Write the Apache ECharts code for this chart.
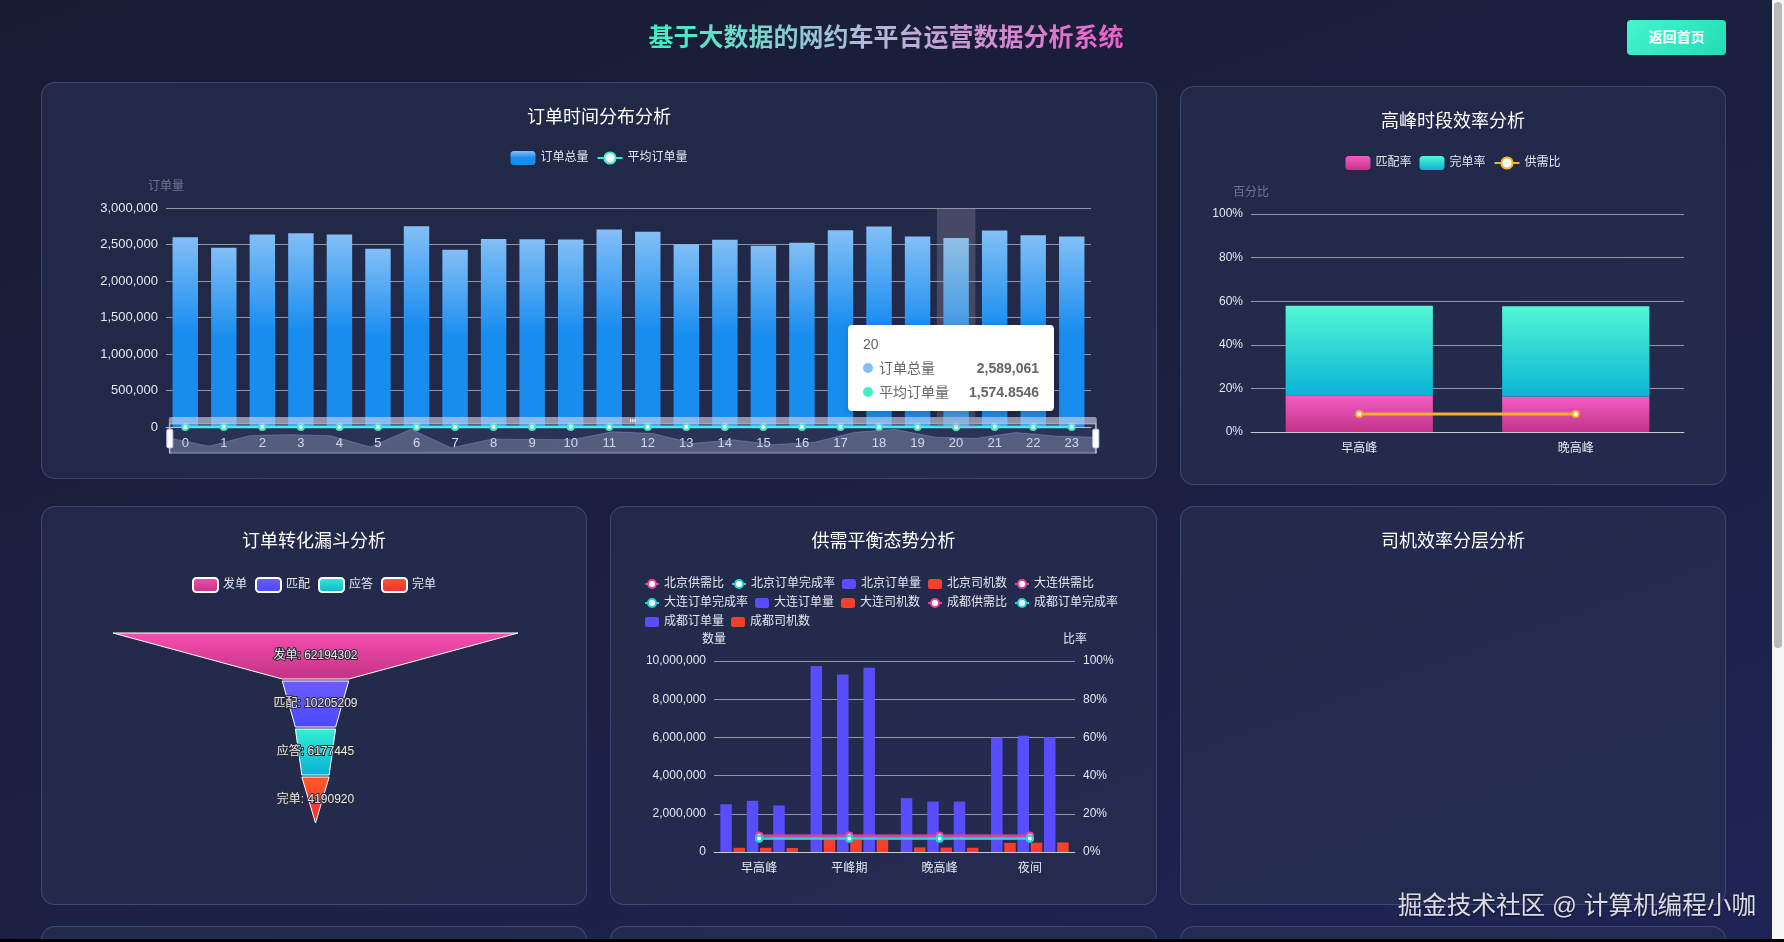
<!DOCTYPE html>
<html>
<head>
<meta charset="utf-8">
<title>网约车平台运营数据分析</title>
<script src="https://cdn.jsdelivr.net/npm/echarts@6/dist/echarts.min.js"></script>
<style>
  html, body {
    margin: 0;
    padding: 0;
    width: 1784px;
    height: 942px;
    overflow: hidden;
    font-family: "Liberation Sans", "Noto Sans CJK SC", sans-serif;
  }
  body {
    position: relative;
    background: linear-gradient(160deg, #181c33 0%, #1b2042 55%, #1f2456 100%);
  }
  .header-title {
    position: absolute;
    left: 0;
    width: 1772px;
    top: 18px;
    text-align: center;
    font-size: 25px;
    font-weight: bold;
    line-height: 38px;
  }
  .header-title span {
    background: linear-gradient(90deg, #3ff0c0 0%, #b9b4dc 50%, #ee5fc6 100%);
    -webkit-background-clip: text;
    background-clip: text;
    color: transparent;
  }
  .back-btn {
    position: absolute;
    left: 1627px;
    top: 20px;
    width: 99px;
    height: 35px;
    line-height: 35px;
    text-align: center;
    color: #fff;
    font-size: 14px;
    font-weight: bold;
    border-radius: 4px;
    background: linear-gradient(135deg, #45f5cf, #22dcb4);
  }
  .panel {
    position: absolute;
    box-sizing: border-box;
    border: 1px solid rgba(110, 130, 190, 0.35);
    border-radius: 14px;
    background: rgba(40, 48, 80, 0.62);
    overflow: hidden;
  }
  .panel .chart {
    width: 100%;
    height: 100%;
  }
  .watermark {
    position: absolute;
    right: 28px;
    top: 885px;
    font-size: 24.6px;
    color: rgba(240, 240, 245, 0.9);
    text-shadow: 0 1px 2px rgba(0, 0, 0, 0.6);
    white-space: nowrap;
  }
  .scroll-track {
    position: absolute;
    left: 1772px;
    top: 0;
    width: 12px;
    height: 942px;
    background: #f6f6f6;
  }
  .scroll-thumb {
    position: absolute;
    left: 2px;
    top: 2px;
    width: 8px;
    height: 646px;
    border-radius: 4px;
    background: #b9b9b9;
  }
  .bottom-edge {
    position: absolute;
    left: 0;
    top: 939px;
    width: 1784px;
    height: 3px;
    background: #000;
  }
</style>
</head>
<body>
<div class="header-title"><span>基于大数据的网约车平台运营数据分析系统</span></div>
<div class="back-btn">返回首页</div>

<div class="panel" style="left:41px;top:82px;width:1116px;height:397px;"><div id="chartHour" class="chart"></div></div>
<div class="panel" style="left:1180px;top:86px;width:546px;height:399px;"><div id="chartPeak" class="chart"></div></div>
<div class="panel" style="left:41px;top:506px;width:546px;height:399px;"><div id="chartFunnel" class="chart"></div></div>
<div class="panel" style="left:610px;top:506px;width:547px;height:399px;"><div id="chartSupply" class="chart"></div></div>
<div class="panel" style="left:1180px;top:506px;width:546px;height:399px;"><div id="chartDriver" class="chart"></div></div>
<div class="panel" style="left:41px;top:926px;width:546px;height:300px;"></div>
<div class="panel" style="left:610px;top:926px;width:547px;height:300px;"></div>
<div class="panel" style="left:1180px;top:926px;width:546px;height:300px;"></div>

<div class="watermark">掘金技术社区 @ 计算机编程小咖</div>
<div class="scroll-track"><div class="scroll-thumb"></div></div>
<div class="bottom-edge"></div>

<script>
// ---- 数据 ----
var hours = ['0', '1', '2', '3', '4', '5', '6', '7', '8', '9', '10', '11',
  '12', '13', '14', '15', '16', '17', '18', '19', '20', '21', '22', '23']
var orderTotal = [2598000, 2455000, 2636000, 2655000, 2636000, 2441000, 2750000, 2427000,
  2577000, 2573000, 2568000, 2705000, 2673000, 2505000, 2564000, 2482000,
  2523000, 2695000, 2745000, 2609000, 2589061, 2691000, 2627000, 2609000]
var orderAvg = [1580.3, 1493.2, 1603.4, 1614.9, 1603.1, 1484.8, 1672.7, 1476.2,
  1567.5, 1565.1, 1562.0, 1645.3, 1625.9, 1523.7, 1559.6, 1509.7,
  1534.6, 1639.2, 1669.7, 1587.0, 1574.8546, 1636.8, 1597.9, 1587.0]

var peakNames = ['早高峰', '晚高峰']
var matchRate = [16.9, 16.3]
var completeRate = [41.0, 41.4]
var supplyRatio = [8.3, 8.3]

var funnelStages = ['发单', '匹配', '应答', '完单']
var funnelValues = [62194302, 10205209, 6177445, 4190920]

var periods = ['早高峰', '平峰期', '晚高峰', '夜间']
var cities = ['北京', '大连', '成都']
var cityOrders = [
  [2500000, 9740000, 2820000, 5980000],
  [2680000, 9290000, 2640000, 6080000],
  [2440000, 9650000, 2640000, 6010000]
]
var cityDrivers = [
  [220000, 640000, 240000, 480000],
  [220000, 630000, 230000, 490000],
  [210000, 640000, 220000, 500000]
]
var cityRatio = [
  [8.5, 8.5, 8.5, 8.5],
  [8.5, 8.5, 8.5, 8.5],
  [8.5, 8.5, 8.5, 8.5]
]
var cityComplete = [
  [7.1, 7.1, 7.1, 7.1],
  [7.1, 7.1, 7.1, 7.1],
  [7.1, 7.1, 7.1, 7.1]
]

// ---- 公共样式 ----
var FONT = '"Liberation Sans", "Noto Sans CJK SC", sans-serif'
var LABEL_COLOR = '#e4e8f2'
var GRID_LINE = 'rgba(255,255,255,0.5)'
var NAME_COLOR = '#6f7690'

function titleOf (text) {
  return {
    text: text,
    left: 'center',
    top: 21,
    textStyle: { color: '#fff', fontSize: 18, fontWeight: 'normal', fontFamily: FONT }
  }
}

function vGrad (top, bottom) {
  return new echarts.graphic.LinearGradient(0, 0, 0, 1, [
    { offset: 0, color: top },
    { offset: 1, color: bottom }
  ])
}

function fmtNum (v) {
  return String(v).replace(/\B(?=(\d{3})+(?!\d))/g, ',')
}

// 订单时间分布
function initHourChart () {
  var chart = echarts.init(document.getElementById('chartHour'))
  chart.setOption({
    animation: false,
    textStyle: { fontFamily: FONT },
    title: titleOf('订单时间分布分析'),
    legend: {
      top: 63,
      left: 'center',
      itemWidth: 25,
      itemHeight: 14,
      textStyle: { color: LABEL_COLOR, fontSize: 12 },
      data: ['订单总量', '平均订单量']
    },
    tooltip: {
      trigger: 'axis',
      axisPointer: { type: 'shadow', shadowStyle: { color: 'rgba(150,150,170,0.3)' } },
      alwaysShowContent: true,
      transitionDuration: 0,
      position: [806, 242],
      backgroundColor: '#fff',
      borderWidth: 0,
      padding: [12, 15],
      textStyle: { color: '#666', fontSize: 14 }
    },
    grid: { left: 124, right: 65, top: 125, bottom: 51 },
    xAxis: {
      type: 'category',
      data: hours,
      axisLine: { lineStyle: { color: GRID_LINE } },
      axisTick: { lineStyle: { color: GRID_LINE } },
      axisLabel: { color: LABEL_COLOR, fontSize: 13, margin: 10 }
    },
    yAxis: {
      type: 'value',
      name: '订单量',
      nameTextStyle: { color: NAME_COLOR, fontSize: 12 },
      min: 0,
      max: 3000000,
      interval: 500000,
      axisLine: { show: false },
      axisTick: { show: false },
      axisLabel: { color: LABEL_COLOR, fontSize: 13, formatter: fmtNum },
      splitLine: { lineStyle: { color: GRID_LINE } }
    },
    dataZoom: [{
      type: 'slider',
      xAxisIndex: 0,
      start: 0,
      end: 100,
      left: 124,
      right: 62,
      bottom: 31,
      height: 30,
      showDetail: false,
      moveHandleSize: 7,
      backgroundColor: 'rgba(0,0,0,0)',
      fillerColor: 'rgba(120,140,200,0.1)',
      borderColor: 'rgba(190,200,230,0.6)',
      dataBackground: {
        lineStyle: { color: 'rgba(160,175,220,0.7)' },
        areaStyle: { color: 'rgba(100,120,190,0.45)' }
      },
      handleStyle: { color: '#fff', borderColor: '#c8cce0' },
      moveHandleStyle: { color: 'rgba(210,215,232,0.62)', opacity: 1 },
      textStyle: { color: LABEL_COLOR }
    }],
    series: [
      {
        name: '订单总量',
        type: 'bar',
        barWidth: '66%',
        itemStyle: {
          color: new echarts.graphic.LinearGradient(0, 0, 0, 1, [
            { offset: 0, color: '#83bff6' },
            { offset: 0.5, color: '#188df0' },
            { offset: 1, color: '#188df0' }
          ])
        },
        data: orderTotal
      },
      {
        name: '平均订单量',
        type: 'line',
        symbol: 'emptyCircle',
        symbolSize: 6,
        itemStyle: { color: '#45ecc8' },
        lineStyle: { color: '#3ee0d8', width: 3 },
        data: orderAvg
      }
    ]
  })
  chart.dispatchAction({ type: 'showTip', seriesIndex: 0, dataIndex: 20 })
}

// 高峰时段效率
function initPeakChart () {
  var chart = echarts.init(document.getElementById('chartPeak'))
  chart.setOption({
    animation: false,
    textStyle: { fontFamily: FONT },
    title: titleOf('高峰时段效率分析'),
    legend: {
      top: 64,
      left: 'center',
      itemWidth: 25,
      itemHeight: 14,
      textStyle: { color: LABEL_COLOR, fontSize: 12 },
      data: ['匹配率', '完单率', '供需比']
    },
    grid: { left: 70, right: 41, top: 127, bottom: 52 },
    xAxis: {
      type: 'category',
      data: peakNames,
      axisLine: { lineStyle: { color: GRID_LINE } },
      axisTick: { lineStyle: { color: GRID_LINE } },
      axisLabel: { color: LABEL_COLOR, fontSize: 12, margin: 11 }
    },
    yAxis: {
      type: 'value',
      name: '百分比',
      nameTextStyle: { color: NAME_COLOR, fontSize: 12 },
      min: 0,
      max: 100,
      interval: 20,
      axisLine: { show: false },
      axisTick: { show: false },
      axisLabel: { color: LABEL_COLOR, fontSize: 12, formatter: '{value}%' },
      splitLine: { lineStyle: { color: GRID_LINE } }
    },
    series: [
      {
        name: '匹配率',
        type: 'bar',
        stack: 'rate',
        barWidth: '68%',
        itemStyle: { color: vGrad('#f45cc4', '#c2348a') },
        data: matchRate
      },
      {
        name: '完单率',
        type: 'bar',
        stack: 'rate',
        barWidth: '68%',
        itemStyle: { color: vGrad('#52f7d4', '#0ab4d6') },
        data: completeRate
      },
      {
        name: '供需比',
        type: 'line',
        symbol: 'emptyCircle',
        symbolSize: 6,
        itemStyle: { color: '#f7b42c' },
        lineStyle: { color: '#f5b02a', width: 3 },
        data: supplyRatio
      }
    ]
  })
}

// 订单转化漏斗
function initFunnelChart () {
  var chart = echarts.init(document.getElementById('chartFunnel'))
  var colors = [
    vGrad('#f64fb0', '#c23283'),
    vGrad('#6c5cff', '#4a48ff'),
    vGrad('#32f0d6', '#0cb0d2'),
    vGrad('#ff5a26', '#ee2e36')
  ]
  chart.setOption({
    animation: false,
    textStyle: { fontFamily: FONT },
    title: titleOf('订单转化漏斗分析'),
    legend: {
      top: 65,
      left: 'center',
      itemWidth: 25,
      itemHeight: 14,
      itemStyle: { borderColor: '#fff', borderWidth: 2 },
      textStyle: { color: LABEL_COLOR, fontSize: 12 },
      data: funnelStages
    },
    series: [{
      type: 'funnel',
      left: 71,
      top: 126,
      width: 405,
      height: 190,
      min: 0,
      max: funnelValues[0],
      minSize: '0%',
      maxSize: '100%',
      sort: 'descending',
      gap: 2,
      label: {
        show: true,
        position: 'inside',
        formatter: '{b}: {c}',
        color: '#e8e8ee',
        fontSize: 12,
        textBorderColor: '#2a2a35',
        textBorderWidth: 2
      },
      itemStyle: { borderColor: '#fff', borderWidth: 1 },
      data: funnelStages.map(function (name, i) {
        return { name: name, value: funnelValues[i], itemStyle: { color: colors[i] } }
      })
    }]
  })
}

// 供需平衡态势
function initSupplyChart () {
  var chart = echarts.init(document.getElementById('chartSupply'))
  var series = []
  cities.forEach(function (city, i) {
    series.push({
      name: city + '供需比',
      type: 'line',
      yAxisIndex: 1,
      symbol: 'emptyCircle',
      symbolSize: 6,
      itemStyle: { color: '#e8449e' },
      lineStyle: { color: '#d9439a', width: 2 },
      data: cityRatio[i]
    })
    series.push({
      name: city + '订单完成率',
      type: 'line',
      yAxisIndex: 1,
      symbol: 'emptyCircle',
      symbolSize: 6,
      itemStyle: { color: '#22d4d6' },
      lineStyle: { color: '#22d4d6', width: 2 },
      data: cityComplete[i]
    })
    series.push({
      name: city + '订单量',
      type: 'bar',
      barGap: '15%',
      barCategoryGap: '14%',
      itemStyle: { color: '#5a4cff' },
      data: cityOrders[i]
    })
    series.push({
      name: city + '司机数',
      type: 'bar',
      barGap: '15%',
      barCategoryGap: '14%',
      itemStyle: { color: '#f2402c' },
      data: cityDrivers[i]
    })
  })
  chart.setOption({
    animation: false,
    textStyle: { fontFamily: FONT },
    title: titleOf('供需平衡态势分析'),
    legend: {
      top: 66,
      left: 28,
      width: 500,
      itemWidth: 14,
      itemHeight: 10,
      itemGap: 7,
      textStyle: { color: LABEL_COLOR, fontSize: 12, lineHeight: 10 }
    },
    grid: { left: 103, right: 81, top: 154, bottom: 52 },
    xAxis: {
      type: 'category',
      data: periods,
      axisLine: { lineStyle: { color: GRID_LINE } },
      axisTick: { lineStyle: { color: GRID_LINE } },
      axisLabel: { color: LABEL_COLOR, fontSize: 12, margin: 11 }
    },
    yAxis: [
      {
        type: 'value',
        name: '数量',
        nameTextStyle: { color: LABEL_COLOR, fontSize: 12 },
        min: 0,
        max: 10000000,
        interval: 2000000,
        axisLine: { show: false },
        axisTick: { show: false },
        axisLabel: { color: LABEL_COLOR, fontSize: 12, formatter: fmtNum },
        splitLine: { lineStyle: { color: GRID_LINE } }
      },
      {
        type: 'value',
        name: '比率',
        nameTextStyle: { color: LABEL_COLOR, fontSize: 12 },
        min: 0,
        max: 100,
        interval: 20,
        axisLine: { show: false },
        axisTick: { show: false },
        axisLabel: { color: LABEL_COLOR, fontSize: 12, formatter: '{value}%' },
        splitLine: { show: false }
      }
    ],
    series: series
  })
}

// 司机效率分层（暂无数据）
function initDriverChart () {
  var chart = echarts.init(document.getElementById('chartDriver'))
  chart.setOption({
    textStyle: { fontFamily: FONT },
    title: titleOf('司机效率分层分析')
  })
}

initHourChart()
initPeakChart()
initFunnelChart()
initSupplyChart()
initDriverChart()
</script>
</body>
</html>
